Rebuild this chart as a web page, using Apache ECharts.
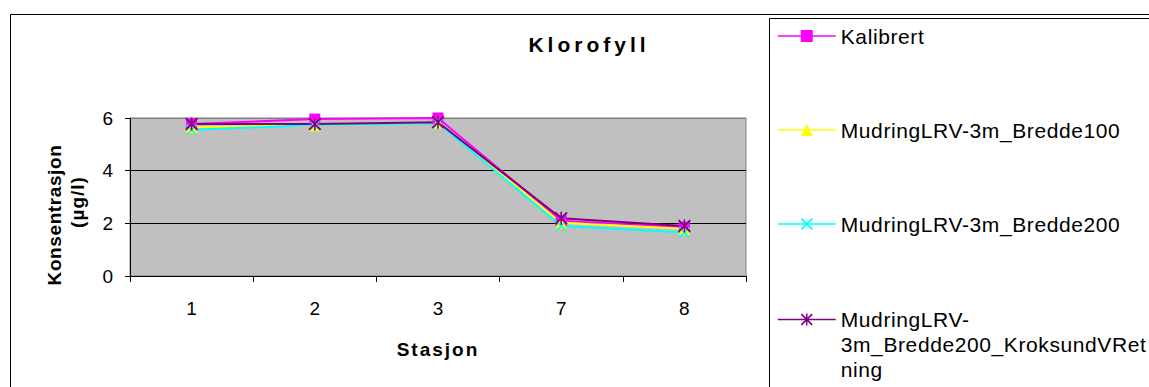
<!DOCTYPE html>
<html>
<head>
<meta charset="utf-8">
<title>Klorofyll</title>
<script src="https://cdn.jsdelivr.net/npm/echarts@6/dist/echarts.min.js"></script>
<style>
  html, body { margin: 0; padding: 0; background: #ffffff; }
  #chart { width: 1149px; height: 387px; }
</style>
</head>
<body>
<div id="chart"></div>
<script>
// Stations along the x axis
const stations = ['1', '2', '3', '7', '8'];

// Series names
const nameKalibrert = 'Kalibrert';
const nameBredde100 = 'MudringLRV-3m_Bredde100';
const nameBredde200 = 'MudringLRV-3m_Bredde200';
const nameKroksund = 'MudringLRV-3m_Bredde200_KroksundVRetning';

// Chlorophyll concentration (µg/l) per station
const kalibrert = [5.77, 5.96, 6.0, 2.10, 1.85];
const bredde100 = [5.65, 5.72, 5.82, 2.02, 1.79];
const bredde200 = [5.55, 5.73, 5.80, 1.90, 1.65];
const kroksund  = [5.77, 5.77, 5.84, 2.19, 1.90];

// Value axis ticks
const yTicks = [0, 2, 4, 6];

const FONT = "'Liberation Sans', Arial, Helvetica, sans-serif";

// Marker shapes: an "x" and an asterisk built from thin filled bars
const X_PATH = 'path://M0,1L1,0L10,9L9,10ZM9,0L10,1L1,10L0,9Z';
const STAR_PATH = 'path://M0,1L1,0L10,9L9,10ZM9,0L10,1L1,10L0,9ZM4.4,0L5.6,0L5.6,10L4.4,10Z';

// Extra tracking for the spaced-out headings and legend entries
const letterSpacing = {
  'Klorofyll': 4,
  'Stasjon': 2,
  'Konsentrasjon': 0.6,
  '(µg/l)': 1
};
const legendSpacing = 0.6;

const chart = echarts.init(document.getElementById('chart'), null, { renderer: 'svg' });

function lineSeries(name, data, color, symbol, size) {
  return {
    name: name,
    type: 'line',
    data: data,
    symbol: symbol,
    symbolSize: size,
    showSymbol: true,
    lineStyle: { color: color, width: 2 },
    itemStyle: { color: color, borderWidth: 0 },
    emphasis: { disabled: true },
    animation: false
  };
}

function legendFor(name, top, label) {
  return {
    data: [name],
    orient: 'vertical',
    left: 777,
    top: top,
    padding: 0,
    itemGap: 0,
    itemWidth: 58,
    itemHeight: 15,
    selectedMode: false,
    lineStyle: { width: 1.5 },
    formatter: label || undefined,
    textStyle: {
      fontFamily: FONT,
      fontSize: 21,
      lineHeight: 25,
      color: '#000'
    }
  };
}

const option = {
  backgroundColor: '#ffffff',
  animation: false,
  textStyle: { fontFamily: FONT },
  grid: {
    left: 130,
    top: 118,
    right: 403,
    bottom: 111,
    show: true,
    backgroundColor: '#C0C0C0',
    borderColor: '#808080',
    borderWidth: 1
  },
  legend: [
    legendFor(nameKalibrert, 36 - 12.5),
    legendFor(nameBredde100, 130 - 12.5),
    legendFor(nameBredde200, 224 - 12.5),
    // two leading empty lines keep the first text line level with the icon
    legendFor(nameKroksund, 319.5 - 62.5, '\n\nMudringLRV-\n3m_Bredde200_KroksundVRet\nning')
  ],
  xAxis: {
    type: 'category',
    data: stations,
    boundaryGap: true,
    axisLine: { show: true, lineStyle: { color: '#000', width: 1 } },
    axisTick: { show: true, length: 6, lineStyle: { color: '#000' } },
    axisLabel: { fontFamily: FONT, fontSize: 19, color: '#000', margin: 23 },
    splitLine: { show: false },
    name: 'Stasjon',
    nameLocation: 'middle',
    nameGap: 64,
    nameTextStyle: { fontFamily: FONT, fontSize: 19, fontWeight: 'bold', color: '#000' }
  },
  yAxis: {
    type: 'value',
    min: yTicks[0],
    max: yTicks[yTicks.length - 1],
    interval: yTicks[1] - yTicks[0],
    axisLine: { show: true, lineStyle: { color: '#000', width: 1 } },
    axisTick: { show: true, length: 5, lineStyle: { color: '#000' } },
    axisLabel: { fontFamily: FONT, fontSize: 19, color: '#000', margin: 17 },
    splitLine: { show: true, lineStyle: { color: ['#000', '#000', '#000', '#808080'], width: 1 } }
  },
  graphic: [
    // outer chart frame
    {
      type: 'rect', silent: true, z: -10,
      shape: { x: 10.5, y: 14.5, width: 2000, height: 2000 },
      style: { fill: 'none', stroke: '#000', lineWidth: 1 }
    },
    // legend frame
    {
      type: 'rect', silent: true, z: -10,
      shape: { x: 769.5, y: 18.5, width: 2000, height: 2000 },
      style: { fill: 'none', stroke: '#000', lineWidth: 1 }
    },
    // chart title
    {
      type: 'text', silent: true,
      x: 589, y: 44.5,
      style: {
        text: 'Klorofyll', align: 'center', verticalAlign: 'middle',
        fontFamily: FONT, fontSize: 21, fontWeight: 'bold', fill: '#000'
      }
    },
    // value axis title (two rotated lines)
    {
      type: 'text', silent: true,
      x: 54, y: 215, rotation: Math.PI / 2,
      style: {
        text: 'Konsentrasjon', align: 'center', verticalAlign: 'middle',
        fontFamily: FONT, fontSize: 19, fontWeight: 'bold', fill: '#000'
      }
    },
    {
      type: 'text', silent: true,
      x: 77, y: 202, rotation: Math.PI / 2,
      style: {
        text: '(µg/l)', align: 'center', verticalAlign: 'middle',
        fontFamily: FONT, fontSize: 19, fontWeight: 'bold', fill: '#000'
      }
    }
  ],
  series: [
    lineSeries(nameKalibrert, kalibrert, '#FF00FF', 'rect', 11),
    lineSeries(nameBredde100, bredde100, '#FFFF00', 'triangle', 12),
    lineSeries(nameBredde200, bredde200, '#00FFFF', X_PATH, 11),
    lineSeries(nameKroksund, kroksund, '#800080', STAR_PATH, 13)
  ]
};

const legendWords = ['Kalibrert', 'MudringLRV', '3m_Bredde', 'ning'];

function applyTracking() {
  document.querySelectorAll('#chart svg text').forEach(function (t) {
    const s = t.textContent;
    if (letterSpacing[s] != null) {
      t.setAttribute('letter-spacing', letterSpacing[s]);
    } else if (legendWords.some(function (w) { return s.indexOf(w) === 0; })) {
      t.setAttribute('letter-spacing', legendSpacing);
    }
  });
}

chart.on('finished', applyTracking);
chart.setOption(option);
applyTracking();
</script>
</body>
</html>
